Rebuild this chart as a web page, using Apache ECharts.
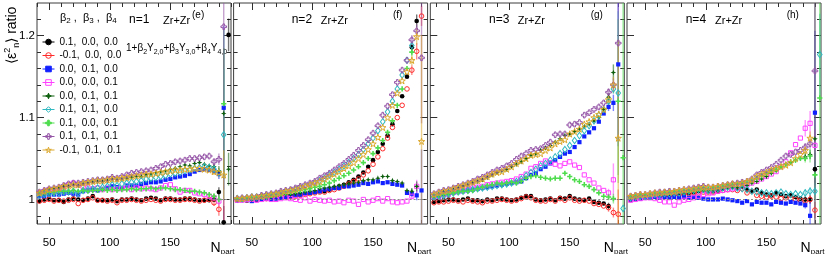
<!DOCTYPE html>
<html>
<head>
<meta charset="utf-8">
<script src="https://cdn.jsdelivr.net/npm/echarts@6.0.0/dist/echarts.min.js"></script>
<style>
html,body{margin:0;padding:0;background:#fff;}
#chart{width:830px;height:254px;}
</style>
</head>
<body>
<div id="chart"></div>
<script>
// ---------------- data ----------------
const npartP1  = [42,46,50,54,58,62,66,70,74,78,82,86,90,94,98,102,106,110,114,118,122,126,130,134,138,142,146,150,154,158,162,166,170,174,178,182,186,190,194,198];
const npartP234= [38,42,46,50,54,58,62,66,70,74,78,82,86,90,94,98,102,106,110,114,118,122,126,130,134,138,142,146,150,154,158,162,166,170,174,178,182,186,190,194];
const xRangeP1 = [40, 200];
const xRangeP234 = [35, 195];
const yRange = [0.97, 1.24];
const xLabelTicks = [50, 100, 150];
const xMinorTicksP1 = [40,50,60,70,80,90,100,110,120,130,140,150,160,170,180,190,200];
const xMinorTicksP234 = [40,50,60,70,80,90,100,110,120,130,140,150,160,170,180,190];
const yLabelTicks = [1, 1.1, 1.2];
const yMinorTicks = [0.98,1.00,1.02,1.04,1.06,1.08,1.10,1.12,1.14,1.16,1.18,1.20,1.22];
const refLine = 1;
const legendLabels = ['0.1,  0.0,  0.0','-0.1,  0.0,  0.0','0.0,  0.1,  0.0','0.0,  0.0,  0.1','0.0,  0.1,  0.1','0.1,  0.1,  0.0','0.1,  0.0,  0.1','0.1,  0.1,  0.1','-0.1,  0.1,  0.1'];
const panelNames = ['n=1','n=2','n=3','n=4'];
const panelTags = ['(e)','(f)','(g)','(h)'];
const systemLabel = 'Zr+Zr';
const TAIL_START = 36; // errors below are tabulated for the last four points

// panel 1 (n=1)
const p1_black=[0.998,1.000,1.001,0.999,0.999,0.997,1.000,1.001,1.000,0.999,
 1.001,1.004,0.999,0.999,0.999,1.000,0.998,1.000,1.000,1.001,
 1.000,0.999,1.001,1.002,1.001,0.999,1.001,1.001,1.000,1.000,
 1.001,1.001,1.000,0.999,0.999,0.999,1.000,1.009,0.972,1.201];
const p1_red=[0.998,0.999,1.000,0.998,0.999,0.998,0.999,1.000,0.995,0.999,
 1.000,1.002,0.999,0.999,0.998,0.999,0.996,0.999,0.999,1.000,
 0.999,0.998,0.999,1.000,0.999,0.998,1.000,1.000,0.999,0.999,
 1.000,1.000,0.999,0.998,0.999,1.000,0.996,0.988,0.950,null];
const p1_blue=[1.004,1.004,1.006,1.006,1.006,1.007,1.008,1.007,1.006,1.010,
 1.011,1.012,1.011,1.013,1.014,1.016,1.015,1.014,1.017,1.017,
 1.017,1.019,1.020,1.021,1.021,1.022,1.024,1.025,1.027,1.028,
 1.029,1.031,1.034,1.036,1.037,1.036,1.035,1.031,1.112,null];
const p1_mag=[1.008,1.010,1.012,1.010,1.012,1.012,1.018,1.020,1.018,1.016,
 1.014,1.013,1.014,1.012,1.014,1.012,1.013,1.013,1.014,1.012,
 1.014,1.013,1.014,1.013,1.012,1.014,1.017,1.018,1.013,1.009,
 1.011,1.011,1.008,1.007,1.006,1.004,1.002,0.998,null,null];
const p1_dgreen=[1.009,1.011,1.013,1.014,1.014,1.016,1.016,1.018,1.017,1.019,
 1.020,1.021,1.022,1.022,1.023,1.025,1.024,1.025,1.026,1.027,
 1.028,1.028,1.030,1.031,1.033,1.034,1.035,1.037,1.038,1.040,
 1.042,1.041,1.044,1.045,1.043,1.041,1.040,1.035,1.105,1.037];
const p1_cyan=[1.005,1.006,1.007,1.008,1.008,1.009,1.009,1.010,1.008,1.011,
 1.012,1.013,1.014,1.015,1.016,1.018,1.017,1.019,1.020,1.021,
 1.022,1.023,1.025,1.026,1.027,1.028,1.029,1.031,1.032,1.033,
 1.035,1.036,1.038,1.039,1.040,1.039,1.037,1.033,1.079,null];
const p1_lgreen=[1.007,1.008,1.009,1.009,1.010,1.010,1.010,1.011,1.010,1.011,
 1.010,1.011,1.011,1.012,1.011,1.012,1.011,1.012,1.012,1.013,
 1.012,1.013,1.013,1.014,1.013,1.014,1.014,1.013,1.012,1.012,
 1.011,1.010,1.010,1.009,1.008,1.006,1.004,1.000,1.117,null];
const p1_purple=[1.009,1.011,1.013,1.014,1.015,1.017,1.019,1.020,1.020,1.021,
 1.022,1.023,1.024,1.024,1.025,1.027,1.026,1.028,1.030,1.032,
 1.033,1.034,1.035,1.036,1.038,1.040,1.043,1.044,1.046,1.047,
 1.048,1.050,1.050,1.051,1.052,1.053,1.046,1.049,1.211,null];
const p1_gold=[1.008,1.010,1.012,1.013,1.014,1.016,1.017,1.018,1.018,1.020,
 1.021,1.022,1.023,1.023,1.024,1.025,1.025,1.026,1.027,1.028,
 1.029,1.030,1.031,1.031,1.032,1.033,1.034,1.035,1.036,1.036,
 1.037,1.037,1.038,1.038,1.037,1.036,1.034,1.033,1.030,null];
const p1_err=[[0.003,0.006,0.02,0.02],[0.004,0.008,0.05,0],[0.004,0.006,0.1,0],[0.004,0.006,0,0],[0.004,0.006,0.08,0.02],
 [0.004,0.006,0.08,0],[0.003,0.005,0.09,0],[0.004,0.007,0.25,0],[0.004,0.006,0.03,0]];

// panel 2 (n=2)
const p2_black=[1.000,1.000,1.000,0.999,1.000,1.001,1.002,1.002,1.003,1.003,
 1.004,1.004,1.005,1.006,1.007,1.008,1.009,1.010,1.010,1.012,
 1.014,1.016,1.018,1.021,1.024,1.028,1.033,1.040,1.048,1.058,
 1.068,1.078,1.092,1.108,1.126,1.150,1.186,1.218,null,null];
const p2_red=[0.999,1.000,0.999,1.000,1.000,1.001,1.001,1.002,1.002,1.003,
 1.003,1.004,1.004,1.005,1.006,1.007,1.008,1.009,1.009,1.011,
 1.012,1.014,1.016,1.019,1.022,1.025,1.030,1.035,1.043,1.052,
 1.062,1.075,1.088,1.100,1.115,1.135,1.158,1.181,1.224,null];
const p2_blue=[0.999,1.000,0.999,0.998,1.000,1.000,1.001,1.000,1.001,1.002,
 1.003,1.004,1.005,1.006,1.007,1.008,1.009,1.010,1.012,1.013,
 1.014,1.014,1.016,1.016,1.017,1.018,1.020,1.019,1.021,1.022,
 1.020,1.021,1.019,1.018,1.017,1.008,1.007,1.005,1.011,null];
const p2_mag=[0.999,0.999,1.000,1.000,0.999,1.000,1.001,1.000,1.000,1.001,
 1.002,1.001,1.000,0.999,1.002,0.998,1.000,0.999,0.998,0.999,
 0.997,0.998,0.996,0.999,0.998,0.994,1.000,0.997,0.999,1.001,
 0.998,1.001,0.997,0.996,0.997,0.998,1.004,1.016,null,null];
const p2_dgreen=[1.000,1.000,1.001,1.000,1.001,1.002,1.003,1.003,1.004,1.005,
 1.006,1.006,1.007,1.008,1.009,1.010,1.011,1.013,1.014,1.015,
 1.016,1.017,1.018,1.019,1.020,1.021,1.023,1.024,1.024,1.026,
 1.028,1.028,1.023,1.022,1.020,1.011,1.010,1.016,null,null];
const p2_cyan=[1.001,1.001,1.002,1.003,1.003,1.004,1.005,1.006,1.007,1.008,
 1.010,1.011,1.012,1.014,1.016,1.018,1.020,1.023,1.026,1.030,
 1.033,1.037,1.041,1.045,1.050,1.055,1.061,1.068,1.075,1.084,
 1.095,1.107,1.120,1.135,1.152,1.170,1.188,null,null,null];
const p2_lgreen=[1.001,1.001,1.002,1.002,1.003,1.004,1.004,1.005,1.006,1.007,
 1.008,1.009,1.010,1.011,1.012,1.013,1.015,1.016,1.018,1.020,
 1.023,1.026,1.029,1.032,1.036,1.040,1.045,1.050,1.056,1.063,
 1.072,1.082,1.096,1.115,1.135,1.160,1.180,null,null,null];
const p2_purple=[1.001,1.002,1.002,1.003,1.003,1.005,1.006,1.007,1.008,1.010,
 1.011,1.012,1.014,1.016,1.018,1.020,1.022,1.026,1.029,1.032,
 1.036,1.040,1.044,1.049,1.054,1.060,1.066,1.073,1.081,1.090,
 1.103,1.114,1.128,1.143,1.158,1.170,1.195,1.206,1.173,null];
const p2_gold=[1.001,1.001,1.002,1.003,1.003,1.004,1.005,1.006,1.007,1.008,
 1.010,1.011,1.012,1.014,1.016,1.018,1.020,1.022,1.025,1.028,
 1.031,1.034,1.038,1.041,1.045,1.050,1.055,1.061,1.068,1.076,
 1.088,1.100,1.115,1.130,1.145,1.156,1.170,1.199,1.071,null];
const p2_err=[[0.006,0.008,0,0],[0.006,0.01,0.012,0],[0.004,0.006,0.05,0],[0.004,0.008,0,0],[0.004,0.006,0,0],
 [0.005,0,0,0],[0.005,0,0,0],[0.006,0.008,0.08,0],[0.006,0.01,0.13,0]];

// panel 3 (n=3)
const p3_black=[0.997,0.998,0.999,1.000,1.000,0.999,1.000,1.001,0.999,0.999,
 0.998,1.000,0.999,1.001,1.001,1.000,0.999,1.000,1.002,1.004,
 1.004,1.000,0.999,1.000,1.001,0.999,1.002,1.001,1.004,1.001,
 1.000,0.999,1.001,0.997,0.996,0.995,0.992,null,null,null];
const p3_red=[0.996,0.997,0.997,0.998,0.999,0.998,0.997,0.999,0.998,0.997,
 0.996,0.998,0.998,0.999,1.000,0.999,0.998,0.999,1.001,1.003,
 1.002,0.999,0.998,0.998,1.000,0.998,1.001,0.999,1.002,0.999,
 0.998,0.999,0.998,0.995,0.994,0.992,0.990,0.984,0.982,null];
const p3_blue=[1.002,1.003,1.005,1.006,1.008,1.009,1.010,1.011,1.012,1.013,
 1.014,1.015,1.016,1.017,1.018,1.019,1.020,1.021,1.022,1.026,
 1.030,1.032,1.037,1.040,1.044,1.048,1.052,1.056,1.058,1.064,
 1.070,1.077,1.082,1.087,1.095,1.105,1.113,1.118,1.165,null];
const p3_mag=[1.003,1.004,1.006,1.007,1.009,1.010,1.011,1.012,1.014,1.015,
 1.016,1.018,1.019,1.020,1.021,1.022,1.023,1.025,1.028,1.031,
 1.038,1.040,1.044,1.047,1.045,1.043,1.041,1.044,1.046,1.042,
 1.039,1.030,1.024,1.020,1.014,1.011,1.008,1.024,null,null];
const p3_dgreen=[1.006,1.007,1.009,1.010,1.012,1.014,1.016,1.018,1.020,1.022,
 1.024,1.027,1.030,1.033,1.035,1.037,1.040,1.043,1.046,1.050,
 1.054,1.056,1.060,1.063,1.066,1.070,1.074,1.078,1.080,1.083,
 1.086,1.089,1.092,1.096,1.100,1.110,1.125,1.155,null,null];
const p3_cyan=[1.003,1.004,1.005,1.007,1.008,1.009,1.010,1.011,1.012,1.013,
 1.014,1.015,1.016,1.017,1.018,1.019,1.020,1.022,1.025,1.029,
 1.033,1.037,1.041,1.044,1.048,1.052,1.056,1.061,1.066,1.072,
 1.078,1.084,1.090,1.096,1.103,1.110,1.120,1.135,1.130,0.989];
const p3_lgreen=[1.004,1.005,1.006,1.007,1.008,1.009,1.010,1.010,1.011,1.013,
 1.015,1.017,1.018,1.020,1.019,1.020,1.021,1.020,1.022,1.026,
 1.028,1.029,1.027,1.026,1.025,1.026,1.026,1.032,1.028,1.024,
 1.022,1.018,1.016,1.012,1.008,1.004,1.003,1.001,1.120,1.051];
const p3_purple=[1.007,1.009,1.011,1.012,1.014,1.016,1.018,1.020,1.022,1.025,
 1.027,1.030,1.033,1.036,1.038,1.041,1.044,1.049,1.053,1.056,
 1.060,1.061,1.062,1.066,1.070,1.079,1.080,1.080,1.091,1.092,
 1.094,1.103,1.106,1.110,1.113,1.118,1.131,1.140,1.191,null];
const p3_gold=[1.006,1.008,1.010,1.011,1.013,1.015,1.017,1.019,1.021,1.023,
 1.025,1.028,1.031,1.033,1.034,1.037,1.040,1.044,1.047,1.050,
 1.054,1.055,1.056,1.060,1.063,1.068,1.071,1.073,1.080,1.083,
 1.086,1.092,1.095,1.100,1.104,1.110,1.122,1.140,1.075,null];
const p3_err=[[0.004,0,0,0],[0.005,0.006,0.03,0],[0.005,0.01,0.1,0],[0.005,0.02,0,0],[0.005,0.01,0,0],
 [0.005,0.006,0.1,0],[0.004,0.006,0.1,0.3],[0.005,0.008,0.12,0],[0.005,0.01,0.12,0]];

// panel 4 (n=4)
const p4_black=[1.001,1.002,1.003,1.003,1.004,1.005,1.005,1.006,1.006,1.007,
 1.007,1.008,1.008,1.009,1.010,1.011,1.010,1.010,1.011,1.013,
 1.016,1.015,1.014,1.018,1.012,1.010,1.012,1.008,1.006,1.005,
 1.008,1.006,1.004,1.005,1.003,1.001,1.000,1.000,1.037,null];
const p4_red=[1.000,1.001,1.002,1.003,1.003,1.004,1.004,1.005,1.005,1.006,
 1.006,1.007,1.007,1.008,1.008,1.009,1.009,1.009,1.010,1.011,
 1.012,1.012,1.011,1.013,1.008,1.010,1.005,1.004,1.003,1.004,
 1.003,1.001,1.002,1.001,1.000,0.999,0.998,1.000,0.987,null];
const p4_blue=[1.000,1.001,1.001,1.002,1.002,1.003,1.002,1.003,1.002,1.003,
 1.002,1.003,1.002,1.003,1.002,1.001,1.000,1.000,1.000,1.001,
 1.000,0.999,0.998,0.996,0.998,0.994,0.997,0.996,0.996,0.994,
 0.997,0.996,0.995,0.997,0.996,0.995,0.993,0.980,1.106,null];
const p4_mag=[0.999,1.000,1.001,1.002,1.002,1.001,0.999,0.997,0.997,0.993,
 0.997,0.999,1.000,1.002,1.004,1.006,1.007,1.008,1.010,1.011,
 1.012,1.013,1.014,1.016,1.018,1.020,1.022,1.025,1.028,1.031,
 1.034,1.040,1.046,1.057,1.067,1.075,1.087,1.093,1.066,null];
const p4_dgreen=[1.002,1.003,1.004,1.005,1.005,1.006,1.007,1.007,1.008,1.008,
 1.009,1.009,1.010,1.010,1.011,1.012,1.011,1.011,1.012,1.013,
 1.014,1.015,1.015,1.015,1.017,1.020,1.022,1.025,1.028,1.032,
 1.035,1.040,1.043,1.045,1.048,1.050,1.052,1.055,1.074,null];
const p4_cyan=[1.002,1.003,1.004,1.004,1.005,1.006,1.006,1.007,1.007,1.008,
 1.008,1.009,1.010,1.011,1.012,1.012,1.011,1.012,1.013,1.014,
 1.015,1.016,1.014,1.013,1.012,1.010,1.009,1.008,1.008,1.007,
 1.008,1.009,1.007,1.006,1.007,1.006,1.008,1.010,1.010,1.177];
const p4_lgreen=[1.003,1.004,1.005,1.006,1.006,1.007,1.008,1.008,1.009,1.009,
 1.010,1.010,1.011,1.012,1.013,1.013,1.013,1.014,1.015,1.016,
 1.017,1.018,1.019,1.020,1.021,1.023,1.026,1.029,1.032,1.035,
 1.037,1.040,1.043,1.046,1.048,1.050,1.050,1.053,1.030,1.124];
const p4_purple=[1.004,1.005,1.006,1.006,1.007,1.008,1.009,1.009,1.010,1.010,
 1.011,1.012,1.013,1.014,1.015,1.016,1.015,1.015,1.016,1.017,
 1.018,1.019,1.020,1.021,1.022,1.025,1.030,1.033,1.036,1.039,
 1.043,1.048,1.053,1.055,1.058,1.060,1.064,1.068,1.157,null];
const p4_gold=[1.004,1.005,1.006,1.006,1.007,1.008,1.008,1.009,1.009,1.010,
 1.011,1.012,1.012,1.013,1.014,1.015,1.015,1.015,1.016,1.017,
 1.018,1.019,1.019,1.020,1.022,1.024,1.028,1.031,1.033,1.036,
 1.038,1.040,1.042,1.045,1.050,1.055,1.060,1.075,null,null];
const p4_err=[[0.004,0.005,0.02,0],[0.004,0.005,0.01,0],[0.004,0.02,0.1,0],[0.01,0.015,0.02,0],[0.005,0.006,0.2,0],
 [0.004,0.005,0.01,0.05],[0.005,0.008,0.03,0.3],[0.005,0.006,0.3,0],[0.005,0.008,0,0]];

// ---------------- styles ----------------
const FONT = "'Liberation Sans', Arial, Helvetica, sans-serif";
const PLUS = 'path://M35,0H65V35H100V65H65V100H35V65H0V35H35Z';
const STAR5 = 'path://M50,0L61,35L98,35L68,57L79,91L50,70L21,91L32,57L2,35L39,35Z';
const STAR4 = 'path://M50,0L64,36L100,50L64,64L50,100L36,64L0,50L36,36Z';
const markerStyles = [
  {color:'#000000', symbol:'circle', open:false, size:4.6},
  {color:'#ff2a2a', symbol:'circle', open:true, size:4.6},
  {color:'#1020ff', symbol:'rect', open:false, size:4.2},
  {color:'#ff40ff', symbol:'rect', open:true, size:4.2},
  {color:'#0d5e0d', symbol:STAR4, open:false, size:5.6},
  {color:'#2fb8c0', symbol:'diamond', open:true, size:[4.6,6.4]},
  {color:'#4cdc4c', symbol:PLUS, open:false, size:5.2},
  {color:'#9656a8', symbol:PLUS, open:true, size:5.6},
  {color:'#dca82c', symbol:STAR5, open:true, size:6.4}
];
const LEFTS = [37, 233.6, 430.3, 627];
const GTOP = 3, GW = 194, GH = 221;

const panels = [
  {x:npartP1, range:xRangeP1, ticks:xMinorTicksP1, data:[p1_black,p1_red,p1_blue,p1_mag,p1_dgreen,p1_cyan,p1_lgreen,p1_purple,p1_gold], err:p1_err},
  {x:npartP234, range:xRangeP234, ticks:xMinorTicksP234, data:[p2_black,p2_red,p2_blue,p2_mag,p2_dgreen,p2_cyan,p2_lgreen,p2_purple,p2_gold], err:p2_err},
  {x:npartP234, range:xRangeP234, ticks:xMinorTicksP234, data:[p3_black,p3_red,p3_blue,p3_mag,p3_dgreen,p3_cyan,p3_lgreen,p3_purple,p3_gold], err:p3_err},
  {x:npartP234, range:xRangeP234, ticks:xMinorTicksP234, data:[p4_black,p4_red,p4_blue,p4_mag,p4_dgreen,p4_cyan,p4_lgreen,p4_purple,p4_gold], err:p4_err}
];

function errRenderer(color) {
  return function (params, api) {
    const x = api.value(0), v = api.value(1), e = api.value(2);
    const lo = Math.max(v - e, yRange[0]), hi = Math.min(v + e, yRange[1]);
    if (!(hi > lo)) return null;
    const a = api.coord([x, lo]), b = api.coord([x, hi]);
    return {type:'line', shape:{x1:a[0], y1:a[1], x2:b[0], y2:b[1]},
            style:{stroke:color, lineWidth:1.4, opacity:0.55}};
  };
}

const grids = [], xAxes = [], yAxes = [], series = [], graphics = [];
const TICKC = '#303030';

panels.forEach((p, g) => {
  grids.push({left:LEFTS[g], top:GTOP, width:GW, height:GH, show:true, borderColor:'#3c3c3c', borderWidth:1,
              backgroundColor:'rgba(0,0,0,0)', containLabel:false, outerBoundsMode:'none'});
  const xb = xAxes.length, yb = yAxes.length;
  const xc = {type:'value', gridIndex:g, min:p.range[0], max:p.range[1], axisLine:{show:false}, splitLine:{show:false}};
  xAxes.push(Object.assign({}, xc, {position:'bottom',
    axisTick:{show:true, inside:true, length:4, customValues:p.ticks, lineStyle:{color:TICKC, width:1}},
    axisLabel:{show:true, customValues:xLabelTicks, margin:13, fontSize:11.5, color:'#000', fontFamily:FONT}}));
  xAxes.push(Object.assign({}, xc, {position:'bottom',
    axisTick:{show:true, inside:true, length:7, customValues:xLabelTicks, lineStyle:{color:TICKC, width:1}},
    axisLabel:{show:false}}));
  xAxes.push(Object.assign({}, xc, {position:'top',
    axisTick:{show:true, inside:true, length:4, customValues:p.ticks, lineStyle:{color:TICKC, width:1}},
    axisLabel:{show:false}}));
  xAxes.push(Object.assign({}, xc, {position:'top',
    axisTick:{show:true, inside:true, length:7, customValues:xLabelTicks, lineStyle:{color:TICKC, width:1}},
    axisLabel:{show:false}}));
  const yc = {type:'value', gridIndex:g, min:yRange[0], max:yRange[1], axisLine:{show:false}, splitLine:{show:false}};
  yAxes.push(Object.assign({}, yc, {position:'left',
    axisTick:{show:true, inside:true, length:4, customValues:yMinorTicks, lineStyle:{color:TICKC, width:1}},
    axisLabel:{show:g === 0, customValues:yLabelTicks, margin:2, fontSize:11.5, color:'#000', fontFamily:FONT}}));
  yAxes.push(Object.assign({}, yc, {position:'left',
    axisTick:{show:true, inside:true, length:7, customValues:yLabelTicks, lineStyle:{color:TICKC, width:1}},
    axisLabel:{show:false}}));
  yAxes.push(Object.assign({}, yc, {position:'right',
    axisTick:{show:true, inside:true, length:4, customValues:yMinorTicks, lineStyle:{color:TICKC, width:1}},
    axisLabel:{show:false}}));
  yAxes.push(Object.assign({}, yc, {position:'right',
    axisTick:{show:true, inside:true, length:7, customValues:yLabelTicks, lineStyle:{color:TICKC, width:1}},
    axisLabel:{show:false}}));

  // error bars first (below markers)
  markerStyles.forEach((st, k) => {
    const eData = [];
    p.err[k].forEach((e, j) => {
      const i = TAIL_START + j, v = p.data[k][i];
      if (e > 0 && v != null) eData.push([p.x[i], v, e]);
    });
    series.push({type:'custom', xAxisIndex:xb, yAxisIndex:yb, data:eData, encode:{x:0, y:1},
                 renderItem:errRenderer(st.color), z:2, silent:true, animation:false});
  });

  markerStyles.forEach((st, k) => {
    const pts = [];
    p.x.forEach((x, i) => { const v = p.data[k][i]; if (v != null) pts.push([x, v]); });
    const s = {
      type:'line', name:(g === 0 ? legendLabels[k] : panelNames[g] + ' ' + legendLabels[k]),
      xAxisIndex:xb, yAxisIndex:yb, data:pts, showSymbol:true, symbol:st.symbol, symbolSize:st.size,
      itemStyle: st.open ? {color:'rgba(255,255,255,0)', borderColor:st.color, borderWidth:1}
                         : {color:st.color, borderColor:st.color, borderWidth:0},
      lineStyle:{width:0, opacity:0, color:st.color},
      clip:true, silent:true, animation:false, z:3, emphasis:{disabled:true}
    };
    if (k === 0) {
      s.markLine = {silent:true, symbol:'none', label:{show:false}, animation:false,
                    lineStyle:{color:'#8a8a8a', type:[2,2], width:1}, data:[{yAxis:refLine}]};
    }
    series.push(s);
  });

  // N_part
  graphics.push({type:'text', x:LEFTS[g] + 173.5, y:248.5, style:{text:'N', fontSize:14, fontFamily:FONT, fill:'#000', align:'left', verticalAlign:'middle', textAlign:'left', textVerticalAlign:'middle'}});
  graphics.push({type:'text', x:LEFTS[g] + 183.8, y:251.5, style:{text:'part', fontSize:8, fontFamily:FONT, fill:'#000', align:'left', verticalAlign:'middle', textAlign:'left', textVerticalAlign:'middle'}});
});

// panel annotations
const nameX = [129, 291.7, 489, 685.7], sysX = [163, 320.7, 517.7, 715], tagX = [192, 393, 590.7, 786.7];
panelNames.forEach((t, g) => {
  graphics.push({type:'text', x:nameX[g], y:19.5, style:{text:t, fontSize:12, fontFamily:FONT, fill:'#000', align:'left', verticalAlign:'middle', textAlign:'left', textVerticalAlign:'middle'}});
  graphics.push({type:'text', x:sysX[g], y:21, style:{text:systemLabel, fontSize:11, fontFamily:FONT, fill:'#000', align:'left', verticalAlign:'middle', textAlign:'left', textVerticalAlign:'middle'}});
  graphics.push({type:'text', x:tagX[g], y:15.5, style:{text:panelTags[g], fontSize:10, fontFamily:FONT, fill:'#000', align:'left', verticalAlign:'middle', textAlign:'left', textVerticalAlign:'middle'}});
});

function richText(x, y, text, main, sub, extra) {
  const st = {
    text:text, fill:'#000', align:'left', verticalAlign:'middle', textAlign:'left', textVerticalAlign:'middle',
    fontSize:main, fontFamily:FONT,
    rich:{
      m:{fontSize:main, fontFamily:FONT, fill:'#000', lineHeight:extra.lh, verticalAlign:'middle'},
      s:{fontSize:sub, fontFamily:FONT, fill:'#000', lineHeight:sub, verticalAlign:'bottom'},
      p:{fontSize:sub, fontFamily:FONT, fill:'#000', lineHeight:sub, verticalAlign:'top'}
    }
  };
  const el = {type:'text', x:x, y:y, style:st};
  if (extra.rotation) el.rotation = extra.rotation;
  return el;
}
// y axis title
graphics.push(richText(12.5, 64, '{m|⟨ε}{p|2}{s|n}{m|⟩ ratio}', 14, 9, {lh:18, rotation:Math.PI / 2}));
// legend header
graphics.push(richText(60, 17.5, '{m|β}{s|2}{m| ,  β}{s|3}{m| ,  β}{s|4}', 11, 8, {lh:15}));
// shape formula
graphics.push(richText(126, 48, '{m|1+β}{s|2}{m|Y}{s|2,0}{m|+β}{s|3}{m|Y}{s|3,0}{m|+β}{s|4}{m|Y}{s|4,0}', 10, 7, {lh:16}));

const chart = echarts.init(document.getElementById('chart'), null, {renderer:'canvas'});
chart.setOption({
  animation:false,
  backgroundColor:'#ffffff',
  grid:grids, xAxis:xAxes, yAxis:yAxes, series:series,
  legend:{show:true, type:'plain', orient:'vertical', left:42, top:36, padding:0,
          itemWidth:12, itemHeight:7, itemGap:1.5, selectedMode:false,
          data:legendLabels,
          textStyle:{fontSize:10, lineHeight:12, color:'#000', fontFamily:FONT},
          lineStyle:{width:1, opacity:1}, itemStyle:{borderWidth:1}},
  graphic:{elements:graphics}
});
</script>
</body>
</html>
